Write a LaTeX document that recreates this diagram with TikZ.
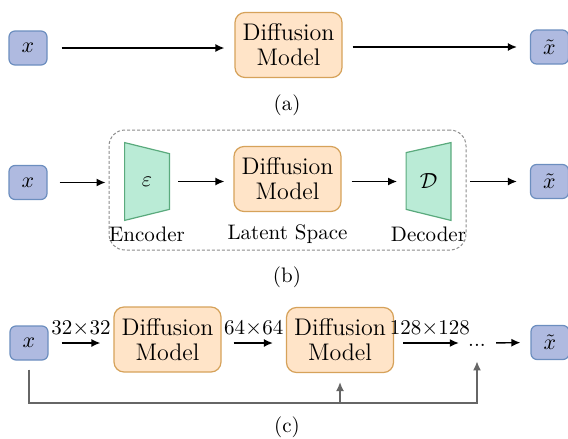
\documentclass[tikz,border=0pt]{standalone}
\usepackage{amsmath}
\usepackage{amssymb}
\usepackage{tikz}
\usetikzlibrary{positioning,calc,arrows.meta,backgrounds}

\definecolor{iofill}{RGB}{175,186,224}
\definecolor{ioline}{RGB}{108,142,191}
\definecolor{dmfill}{RGB}{255,228,200}
\definecolor{dmline}{RGB}{214,162,90}
\definecolor{coderfill}{RGB}{186,235,214}
\definecolor{coderline}{RGB}{90,170,125}

\tikzset{
  io/.style={draw=ioline, fill=iofill, rounded corners=3pt, minimum width=19pt,
    minimum height=17pt, inner sep=0pt, line width=0.6pt, font=\fontsize{10.5}{12}\selectfont},
  dm/.style={draw=dmline, fill=dmfill, rounded corners=5pt, minimum width=53.5pt,
    minimum height=32.5pt, inner sep=0pt, align=center, line width=0.6pt,
    font=\fontsize{12}{12.5}\selectfont},
  coder/.style={minimum width=22pt, minimum height=38.5pt, inner sep=0pt,
    font=\fontsize{11}{12}\selectfont},
  trap/.style={draw=coderline, fill=coderfill, line width=0.6pt},
  lab/.style={font=\fontsize{10.5}{12}\selectfont, inner sep=1pt},
  arr/.style={-{Latex[length=4.5pt,width=4pt]}, line width=0.7pt},
  fb/.style={arr, draw=black!60},
  latentbox/.style={draw=black!45, dash pattern=on 1.5pt off 1pt, rounded corners=8pt,
    minimum width=178.5pt, minimum height=60pt, line width=0.5pt},
}

\begin{document}
\begin{tikzpicture}[x=0.5pt,y=-0.5pt]
\useasboundingbox (0,0) rectangle (568,439);

% (a)
\node (xa) [io] at (28,48) {$x$};
\node (dma) [dm] at (288.5,45) {Diffusion\\Model};
\node (xta) [io] at (549.5,47) {$\tilde{x}$};
\draw[arr, shorten <=7pt, shorten >=5pt] (xa.east) -- (xa.east -| dma.west);
\draw[arr, shorten <=5pt, shorten >=6.5pt] (dma.east |- xta) -- (xta.west);
\node (capa) [lab] at (287,105) {(a)};

% (b)
\node (latent) [latentbox] at (287.5,190) {};
\node (xb) [io] at (28,182.5) {$x$};
\node (enc) [coder] at (147,181.5) {$\varepsilon$};
\node (dmb) [dm] at (287.5,179) {Diffusion\\Model};
\node (dec) [coder] at (428.5,181.5) {$\mathcal{D}$};
\node (xtb) [io] at (549.5,181.5) {$\tilde{x}$};
\begin{scope}[on background layer]
  \draw[trap] (enc.north west) -- ($(enc.north east)+(0,11)$)
    -- ($(enc.south east)-(0,11)$) -- (enc.south west) -- cycle;
  \draw[trap] ($(dec.north west)+(0,10)$) -- (dec.north east)
    -- (dec.south east) -- ($(dec.south west)-(0,11)$) -- cycle;
\end{scope}
\node (enclab) [lab, below=2pt of enc] {Encoder};
\node (latlab) [lab] at (dmb |- enclab) {Latent Space};
\node (declab) [lab] at (dec |- enclab) {Decoder};
\draw[arr, shorten <=6pt, shorten >=1.5pt] (xb.east) -- (xb.east -| latent.west);
\draw[arr, shorten <=4.5pt, shorten >=4.5pt] (enc.east) -- (enc.east -| dmb.west);
\draw[arr, shorten <=5pt, shorten >=4.5pt] (dmb.east |- dec) -- (dec.west);
\draw[arr, shorten <=9.5pt, shorten >=6.5pt] (dec.east) -- (xtb.west);
\node (capb) [lab] at (287,277) {(b)};

% (c)
\node (xc) [io] at (29,343) {$x$};
\node (dm1) [dm] at (167.5,339.5) {Diffusion\\Model};
\node (dm2) [dm] at (340,340) {Diffusion\\Model};
\node (dots) [lab, anchor=base] at (477,346) {...};
\node (xtc) [io] at (550,342.5) {$\tilde{x}$};
\draw[arr, shorten <=6.5pt, shorten >=6.5pt] (xc.east) -- node[lab, above=2pt] {32$\times$32} (xc.east -| dm1.west);
\draw[arr, shorten <=6pt, shorten >=6.5pt] (dm1.east |- xc) -- node[lab, above=2pt] {64$\times$64} (dm2.west |- xc);
\draw[arr, shorten <=4.5pt, shorten >=3.5pt] (dm2.east |- xc) -- node[lab, above=2pt] {128$\times$128} (dots.west |- xc);
\draw[arr, shorten <=4pt, shorten >=5pt] (dots.east |- xc) -- (xtc.west);
\coordinate (base) at (0,403);
\draw[fb, shorten <=4.5pt, shorten >=6.5pt] (xc.south) -- (xc.south |- base) -| (dots.south);
\draw[fb, shorten >=4.5pt] (dm2.south |- base) -- (dm2.south);
\node (capc) [lab] at (287,427) {(c)};
\end{tikzpicture}
\end{document}
